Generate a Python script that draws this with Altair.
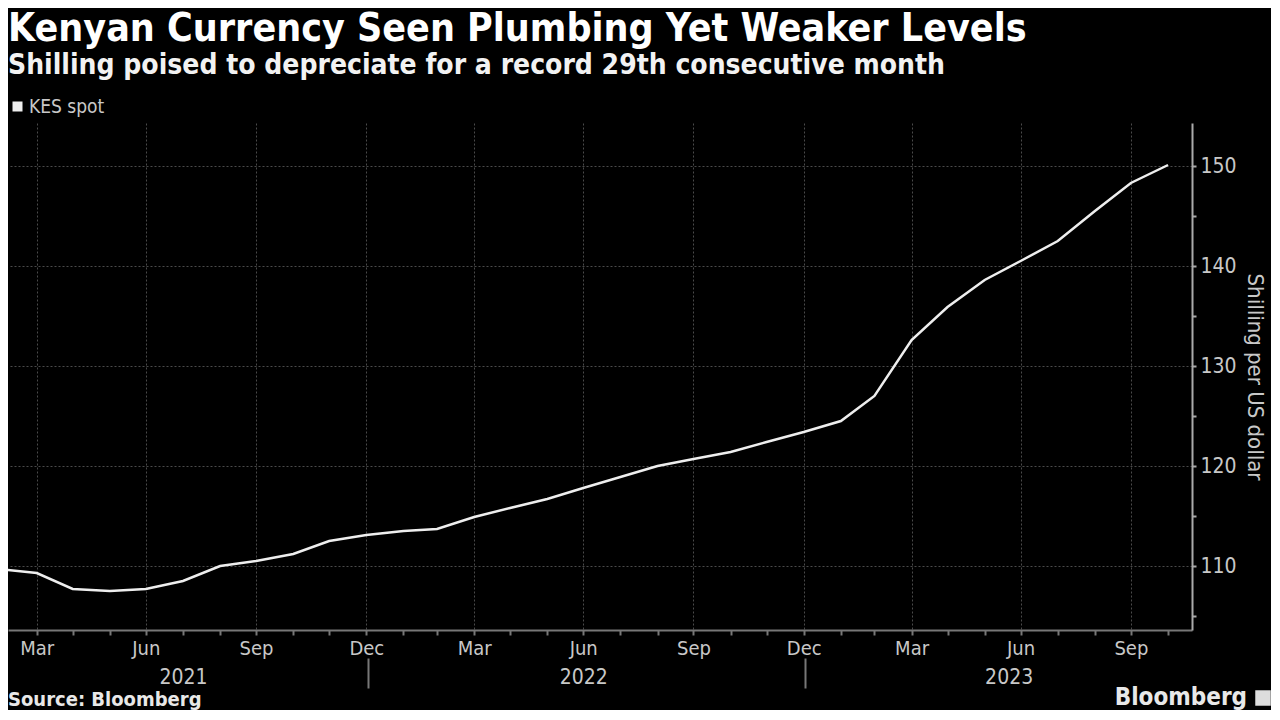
import altair as alt
import pandas as pd

# Month-end observation dates (Feb 2021 .. Oct 2023)
dates = [
    "2021-02-28", "2021-03-31", "2021-04-30", "2021-05-31", "2021-06-30", "2021-07-31",
    "2021-08-31", "2021-09-30", "2021-10-31", "2021-11-30", "2021-12-31",
    "2022-01-31", "2022-02-28", "2022-03-31", "2022-04-30", "2022-05-31", "2022-06-30",
    "2022-07-31", "2022-08-31", "2022-09-30", "2022-10-31", "2022-11-30", "2022-12-31",
    "2023-01-31", "2023-02-28", "2023-03-31", "2023-04-30", "2023-05-31", "2023-06-30",
    "2023-07-31", "2023-08-31", "2023-09-30", "2023-10-31",
]
# KES per USD
kes_spot = [
    109.7, 109.3, 107.7, 107.5, 107.7, 108.5,
    110.0, 110.5, 111.2, 112.5, 113.1,
    113.5, 113.7, 114.9, 115.8, 116.7, 117.8,
    118.9, 120.0, 120.7, 121.4, 122.4, 123.4,
    124.5, 127.0, 132.6, 135.9, 138.6, 140.5,
    142.5, 145.5, 148.3, 150.1,
]
series_name = ["KES spot"] * len(dates)

year_labels = ["2021", "2022", "2023"]
year_label_dates = [(2021, 7, 31), (2022, 6, 30), (2023, 6, 20)]
year_breaks = [(2022, 1, 1), (2023, 1, 1)]
y_ticks = [105, 110, 115, 120, 125, 130, 135, 140, 145, 150]

df = pd.DataFrame({"date": [d + "T00:00:00" for d in dates], "value": kes_spot, "series": series_name})

W, H = 1184, 507
GRID = "#4a4a4a"
LBL = "#c8c8c8"
FONT = "DejaVu Sans Condensed, Liberation Sans Narrow, DejaVu Sans"

def dt(t):
    return alt.DateTime(year=t[0], month=t[1], date=t[2])

tick_dates = [dt((int(d[:4]), int(d[5:7]), int(d[8:10]))) for d in dates]

xscale = alt.Scale(domain=[dt((2021, 3, 7)), dt((2023, 11, 20))])
quarter_test = "month(datum.value) % 3 == 2"

x_main = alt.X(
    "date:T",
    scale=xscale,
    axis=alt.Axis(
        orient="bottom",
        values=tick_dates,
        labelExpr=f"{quarter_test} ? timeFormat(datum.value, '%b') : ''",
        grid=True,
        gridOpacity={"condition": {"test": quarter_test, "value": 1}, "value": 0},
        gridColor=GRID, gridDash=[2, 2], gridWidth=1,
        domainColor="#777777", domainWidth=2,
        tickColor="#777777", tickSize=5, tickWidth=2,
        labelColor=LBL, labelFontSize=20, labelFont=FONT, labelPadding=3,
        labelOverlap=False, labelFlush=False, title=None,
    ),
)

y_enc = alt.Y(
    "value:Q",
    scale=alt.Scale(domain=[103.6, 154.3], nice=False, zero=False),
    axis=alt.Axis(
        orient="right",
        values=y_ticks,
        labelExpr="datum.value % 10 == 0 ? datum.label : ''",
        grid=True,
        gridOpacity={"condition": {"test": "datum.value % 10 == 0", "value": 1}, "value": 0},
        gridColor=GRID, gridDash=[2, 2], gridWidth=1,
        domainColor="#aaaaaa", domainWidth=2,
        tickColor="#aaaaaa", tickSize=4, tickWidth=2,
        labelColor=LBL, labelFontSize=21, labelFont=FONT, labelPadding=4,
        title="Shilling per US dollar", titleFontSize=22, titleFont=FONT,
        titleColor=LBL, titleFontWeight="normal", titleAngle=90, titlePadding=6,
    ),
)

line = alt.Chart(df).mark_line(color="#e6e6e6", strokeWidth=2.5, clip=True).encode(
    x=x_main,
    y=y_enc,
    color=alt.Color(
        "series:N",
        scale=alt.Scale(range=["#eeeeee"]),
        legend=alt.Legend(
            orient="none", legendX=0, legendY=-26, title=None,
            symbolType="square", symbolSize=100, symbolFillColor="#eeeeee",
            symbolStrokeWidth=0, labelColor=LBL, labelFontSize=19, labelFont=FONT,
            labelOffset=2,
        ),
    ),
)

years_df = pd.DataFrame({
    "date": [f"{y:04d}-{m:02d}-{d:02d}T00:00:00" for (y, m, d) in year_label_dates],
    "year": year_labels,
})
year_axis_values = [dt(t) for t in year_label_dates] + [dt(t) for t in year_breaks]
years = alt.Chart(years_df).mark_rule(opacity=0).encode(
    x=alt.X(
        "date:T",
        scale=xscale,
        axis=alt.Axis(
            orient="bottom",
            values=year_axis_values,
            labelExpr="month(datum.value) == 0 ? '' : timeFormat(datum.value, '%Y')",
            tickOpacity={"condition": {"test": "month(datum.value) == 0", "value": 1}, "value": 0},
            tickSize=30, tickColor="#777777", tickWidth=2,
            domain=False, grid=False, offset=28,
            labelColor=LBL, labelFontSize=21, labelFont=FONT, labelPadding=-22,
            labelOverlap=False, labelFlush=False, title=None,
        ),
    )
)

source = alt.Chart(pd.DataFrame({"t": ["Source: Bloomberg"]})).mark_text(
    align="left", baseline="middle", font=FONT, fontSize=20, fontWeight="bold", color="#e8e8e8"
).encode(text="t:N", x=alt.value(0), y=alt.value(H + 70))

brand = alt.Chart(pd.DataFrame({"t": ["Bloomberg"]})).mark_text(
    align="right", baseline="middle", font=FONT, fontSize=24, fontWeight="bold", color="#e8e8e8"
).encode(text="t:N", x=alt.value(W + 55), y=alt.value(H + 68))

logo = alt.Chart(pd.DataFrame({"t": ["logo"]})).mark_square(
    size=240, color="#dddddd", opacity=1
).encode(x=alt.value(W + 71), y=alt.value(H + 68))

chart = alt.layer(line, years, source, brand, logo).resolve_axis(x="independent").properties(
    width=W, height=H,
    background="#000000",
    padding={"top": 2, "left": 0, "right": 0, "bottom": 0},
    title=alt.TitleParams(
        text="Kenyan Currency Seen Plumbing Yet Weaker Levels",
        subtitle="Shilling poised to depreciate for a record 29th consecutive month",
        anchor="start", font=FONT, subtitleFont=FONT,
        fontSize=39, subtitleFontSize=28, fontWeight="bold", subtitleFontWeight="bold",
        color="#ffffff", subtitleColor="#f2f2f2", subtitlePadding=3, offset=17,
    ),
).configure_view(stroke=None)

chart.save("out.html", embed_options={"renderer": "svg", "actions": False})
